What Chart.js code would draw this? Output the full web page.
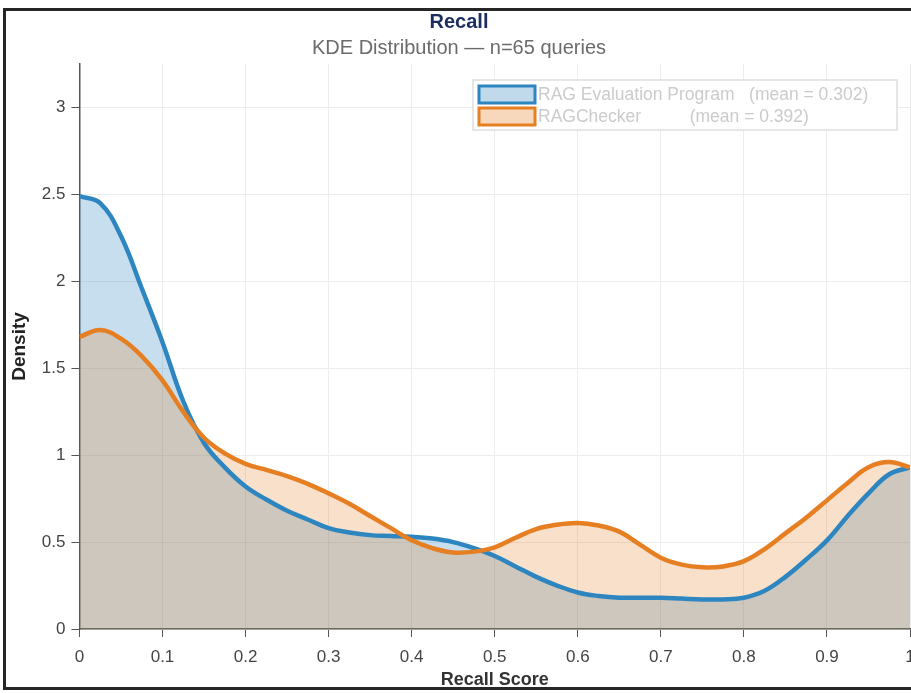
<!DOCTYPE html>
<html>
<head>
<meta charset="utf-8">
<script src="https://cdn.jsdelivr.net/npm/chart.js@4.4.0/dist/chart.umd.min.js"></script>
<style>
  html, body { margin: 0; padding: 0; background: #fff; overflow: hidden; }
  #wrap { position: absolute; left: 0; top: 0; width: 911px; height: 693px; }
  #frame { position: absolute; left: 3px; top: 8px; width: 940px; height: 682px;
           border-left: 3px solid #262626; border-top: 3px solid #262626; border-bottom: 3px solid #262626;
           pointer-events: none; box-sizing: border-box; }
</style>
</head>
<body>
<div id="wrap"><canvas id="c"></canvas></div>
<div id="frame"></div>
<script>
// ---- data ----
const xValues = [0, 0.025, 0.05, 0.075, 0.1, 0.125, 0.15, 0.175, 0.2, 0.225, 0.25, 0.275, 0.3, 0.325, 0.35, 0.375, 0.4, 0.425, 0.45, 0.475, 0.5, 0.525, 0.55, 0.575, 0.6, 0.625, 0.65, 0.675, 0.7, 0.725, 0.75, 0.775, 0.8, 0.825, 0.85, 0.875, 0.9, 0.925, 0.95, 0.975, 1];
const ragEvalDensity = [2.49, 2.45, 2.26, 1.96, 1.65, 1.31, 1.07, 0.93, 0.82, 0.745, 0.68, 0.63, 0.58, 0.555, 0.54, 0.535, 0.53, 0.52, 0.50, 0.465, 0.42, 0.36, 0.30, 0.25, 0.21, 0.19, 0.18, 0.18, 0.18, 0.175, 0.17, 0.17, 0.18, 0.22, 0.30, 0.40, 0.51, 0.65, 0.78, 0.89, 0.93];
const ragCheckerDensity = [1.68, 1.72, 1.67, 1.57, 1.43, 1.25, 1.10, 1.01, 0.95, 0.915, 0.88, 0.835, 0.78, 0.72, 0.65, 0.58, 0.51, 0.465, 0.44, 0.445, 0.47, 0.525, 0.575, 0.60, 0.61, 0.595, 0.56, 0.485, 0.41, 0.37, 0.355, 0.36, 0.39, 0.46, 0.55, 0.64, 0.74, 0.84, 0.93, 0.96, 0.93];
const seriesNames = ["RAG Evaluation Program", "RAGChecker"];
const seriesMeans = [0.302, 0.392];
const legendLabels = ["RAG Evaluation Program   (mean = 0.302)", "RAGChecker          (mean = 0.392)"];
const titleText = "Recall";
const subtitleText = "KDE Distribution \u2014 n=65 queries";
const xTitle = "Recall Score";
const yTitle = "Density";

const BLUE = "#2e86c1", ORANGE = "#e67e22";
const toPts = (ys) => xValues.map((x, i) => ({ x: x, y: ys[i] }));
const sans = "'Liberation Sans', Arial, sans-serif";

const legendPlugin = {
  id: 'insideLegend',
  afterDatasetsDraw(chart) {
    const ctx = chart.ctx, ca = chart.chartArea;
    const right = ca.right - 13, top = ca.top + 16;
    const w = 424, h = 50;
    const left = right - w;
    ctx.save();
    ctx.fillStyle = "rgba(255,255,255,0.92)";
    ctx.fillRect(left, top, w, h);
    ctx.strokeStyle = "#dedede";
    ctx.lineWidth = 1.5;
    ctx.strokeRect(left, top, w, h);
    const cols = [[BLUE, "rgba(46,134,193,0.3)"], [ORANGE, "rgba(230,126,34,0.3)"]];
    ctx.font = "17.5px " + sans;
    ctx.textBaseline = "middle";
    ctx.textAlign = "left";
    legendLabels.forEach((lab, i) => {
      const sy = top + 6 + i * 22;
      ctx.fillStyle = "#fff";
      ctx.fillRect(left + 6, sy, 56, 17);
      ctx.fillStyle = cols[i][1];
      ctx.fillRect(left + 6, sy, 56, 17);
      ctx.strokeStyle = cols[i][0];
      ctx.lineWidth = 3;
      ctx.strokeRect(left + 6, sy, 56, 17);
      ctx.fillStyle = "#cbcbcb";
      ctx.fillText(lab, left + 65, sy + 9);
    });
    ctx.restore();
  }
};

new Chart(document.getElementById('c'), {
  type: 'line',
  data: {
    datasets: [
      {
        label: seriesNames[1],
        data: toPts(ragCheckerDensity),
        borderColor: ORANGE,
        backgroundColor: "rgba(230,126,34,0.24)",
        borderWidth: 4.5,
        fill: 'origin',
        pointRadius: 0,
        tension: 0.4,
        order: 0
      },
      {
        label: seriesNames[0],
        data: toPts(ragEvalDensity),
        borderColor: BLUE,
        backgroundColor: "rgba(46,134,193,0.27)",
        borderWidth: 4.5,
        fill: 'origin',
        pointRadius: 0,
        tension: 0.4,
        order: 1
      }
    ]
  },
  options: {
    responsive: true,
    maintainAspectRatio: false,
    animation: false,
    layout: { padding: { left: 8, right: 1, top: 0, bottom: 1 } },
    plugins: {
      filler: { drawTime: 'beforeDatasetsDraw' },
      legend: { display: false },
      tooltip: { enabled: false },
      title: {
        display: true, text: titleText, color: "#1c2e5e",
        font: { family: sans, size: 20, weight: 'bold' },
        padding: { top: 10, bottom: 2 }
      },
      subtitle: {
        display: true, text: subtitleText, color: "#6b6b6b",
        font: { family: sans, size: 20 },
        padding: { bottom: 4 }
      }
    },
    scales: {
      x: {
        type: 'linear', min: 0, max: 1,
        afterFit: (s) => { s.height = 63; s.paddingLeft = 0; s.paddingRight = 0; },
        ticks: {
          stepSize: 0.1, color: "#444", padding: 10,
          font: { family: sans, size: 17 },
          maxRotation: 0,
          callback: (v) => String(Number(v.toFixed(2)))
        },
        grid: { color: "#ececec", tickColor: "#555", tickLength: 8, lineWidth: 1 },
        border: { color: "#555", width: 1.5 },
        title: { display: true, text: xTitle, color: "#333", font: { family: sans, size: 18, weight: 'bold' }, padding: { top: 2, bottom: 1 } }
      },
      y: {
        min: 0, max: 3.25,
        afterBuildTicks: (s) => { s.ticks = s.ticks.filter(t => Math.abs(t.value * 2 - Math.round(t.value * 2)) < 1e-6); },
        ticks: {
          stepSize: 0.5, color: "#444", padding: 6,
          font: { family: sans, size: 17 },
          callback: (v) => String(Number(v.toFixed(2)))
        },
        grid: { color: "#ececec", tickColor: "#555", tickLength: 8, lineWidth: 1 },
        border: { color: "#555", width: 1.5 },
        title: { display: true, text: yTitle, color: "#222", font: { family: sans, size: 19, weight: 'bold' }, padding: { top: 0, bottom: 5 } }
      }
    }
  },
  plugins: [legendPlugin]
});
</script>
</body>
</html>
